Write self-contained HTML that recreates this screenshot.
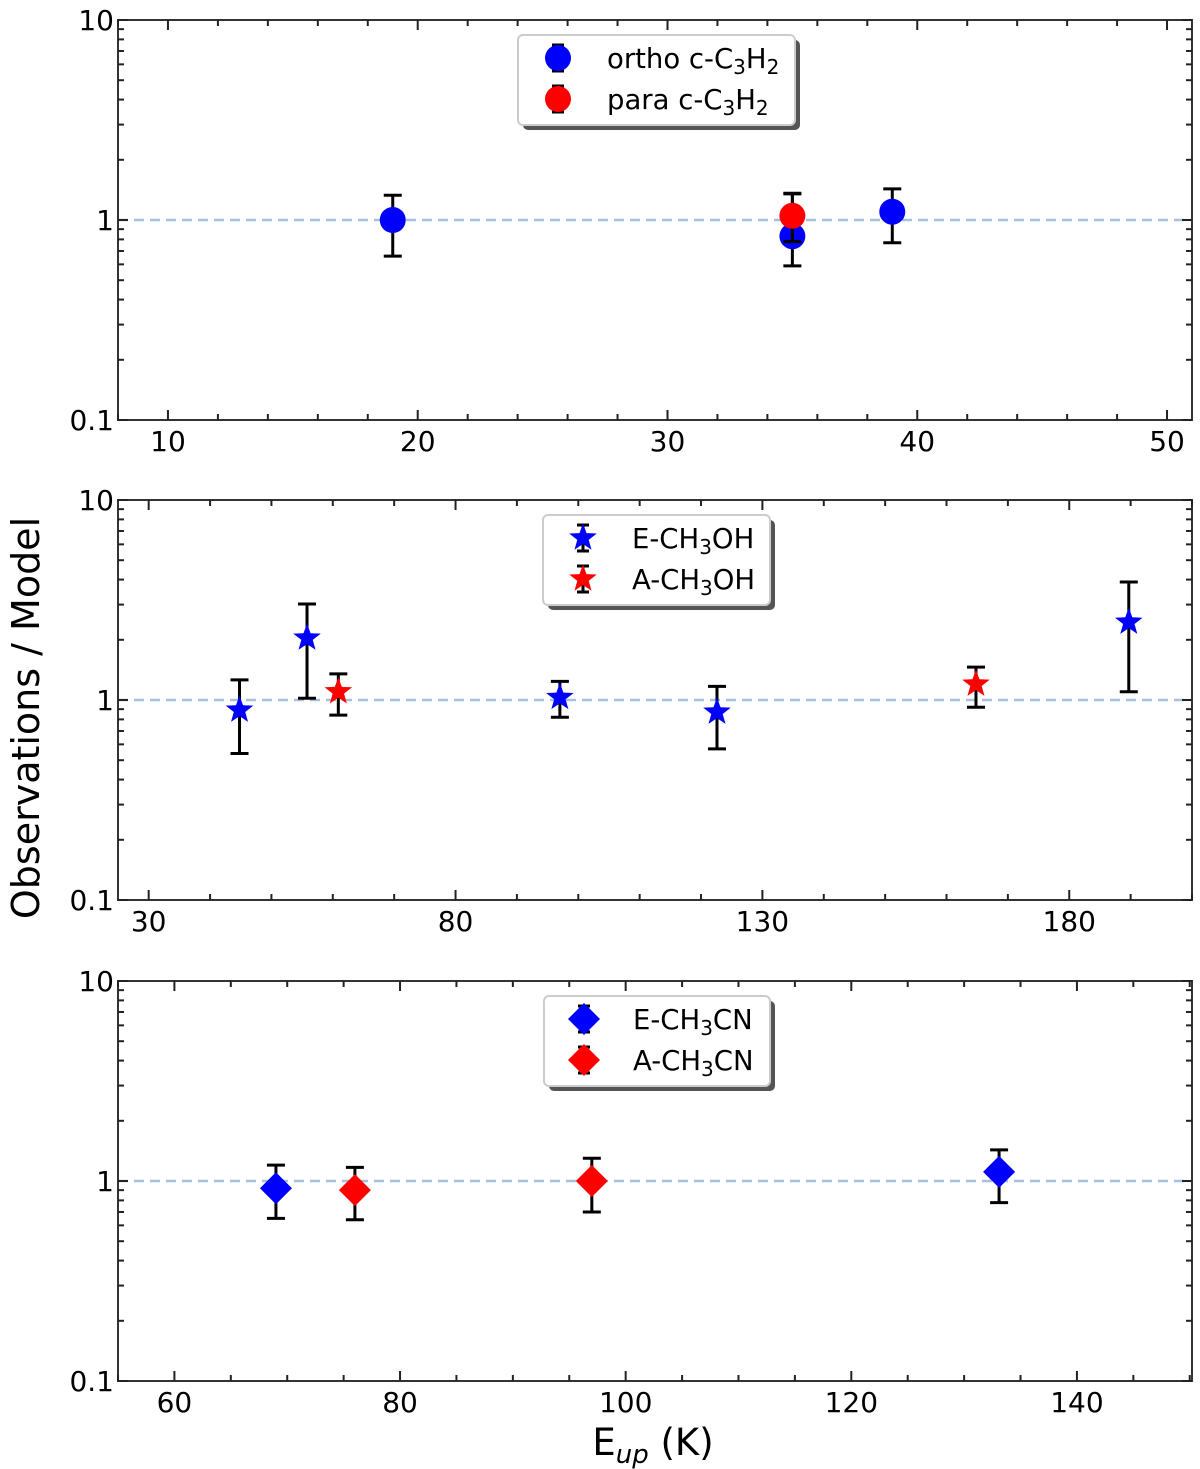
<!DOCTYPE html>
<html><head><meta charset="utf-8"><style>
html,body{margin:0;padding:0;background:#fff;}
svg{display:block;font-family:"DejaVu Sans","Liberation Sans",sans-serif;}
</style></head><body>
<svg id="chart" width="1200" height="1469" viewBox="0 0 1200 1469" xmlns="http://www.w3.org/2000/svg">
<text transform="translate(39,718) rotate(-90)" text-anchor="middle" font-size="38">Observations / Model</text>
<text x="653" y="1455" text-anchor="middle" font-size="37">E<tspan font-style="italic" font-size="26" dy="8">up</tspan><tspan dy="-8"> (K)</tspan></text>
</svg>
<script>
// Panel 1: c-C3H2
const p1OrthoX=[19,35,39];
const p1OrthoY=[1.0,0.83,1.1];
const p1OrthoLo=[0.66,0.59,0.77];
const p1OrthoHi=[1.33,1.36,1.43];
const p1ParaX=[35];
const p1ParaY=[1.05];
const p1ParaLo=[0.78];
const p1ParaHi=[1.35];
const p1Ticks=[10,20,30,40,50];
// Panel 2: CH3OH
const p2EX=[44.8,55.8,97,122.6,189.7];
const p2EY=[0.89,2.04,1.03,0.87,2.45];
const p2ELo=[0.54,1.02,0.82,0.57,1.1];
const p2EHi=[1.26,3.02,1.24,1.17,3.89];
const p2AX=[60.9,164.8];
const p2AY=[1.1,1.2];
const p2ALo=[0.84,0.92];
const p2AHi=[1.35,1.46];
const p2Ticks=[30,80,130,180];
// Panel 3: CH3CN
const p3EX=[69,133.1];
const p3EY=[0.92,1.11];
const p3ELo=[0.65,0.78];
const p3EHi=[1.2,1.43];
const p3AX=[76,97];
const p3AY=[0.9,1.0];
const p3ALo=[0.64,0.7];
const p3AHi=[1.17,1.3];
const p3Ticks=[60,80,100,120,140];
const yTickVals=[0.1,1,10];
const yTickLabels=["0.1","1","10"];

const NS="http://www.w3.org/2000/svg";
const svg=document.getElementById('chart');
function mk(tag,attrs,parent){const e=document.createElementNS(NS,tag);for(const k in attrs)e.setAttribute(k,attrs[k]);(parent||svg).appendChild(e);return e;}

function panel(cfg){
  const L=118,R=1192,T=cfg.top,B=cfg.top+400;
  const g=mk('g',{});
  
  
  const sx=v=>L+(v-cfg.xmin)/(cfg.xmax-cfg.xmin)*(R-L);
  const sy=v=>B-(Math.log10(v)+1)/2*(B-T);
  const ref=mk('line',{x1:L,x2:R,y1:sy(1),y2:sy(1),stroke:'#a8c0e0','stroke-width':2.5,'stroke-dasharray':'10,6'},g);
  
  
  const fr=mk('rect',{x:L,y:T,width:R-L,height:B-T,fill:'none',stroke:'#333','stroke-width':2},g);
  
  
  for(let v=Math.ceil(cfg.xmin/cfg.minor)*cfg.minor;v<=cfg.xmax;v+=cfg.minor){
    const major=cfg.ticks.some(t=>Math.abs(t-v)<1e-6);
    const len=major?10:6,x=sx(v);
    mk('line',{x1:x,x2:x,y1:B,y2:B-len,stroke:'#222','stroke-width':2},g);
    mk('line',{x1:x,x2:x,y1:T,y2:T+len,stroke:'#222','stroke-width':2},g);
  }
  cfg.ticks.forEach(v=>{
    const t=mk('text',{x:sx(v),y:B+31,'text-anchor':'middle','font-size':28},g);
    
    
    t.textContent=v;
  });
  for(let d=-1;d<1;d++){for(let m=2;m<=9;m++){const y=sy(m*Math.pow(10,d));
    mk('line',{x1:L,x2:L+6,y1:y,y2:y,stroke:'#222','stroke-width':2},g);
    mk('line',{x1:R,x2:R-6,y1:y,y2:y,stroke:'#222','stroke-width':2},g);}}
  yTickVals.forEach((v,i)=>{
    const y=sy(v);
    mk('line',{x1:L,x2:L+10,y1:y,y2:y,stroke:'#222','stroke-width':2},g);
    mk('line',{x1:R,x2:R-10,y1:y,y2:y,stroke:'#222','stroke-width':2},g);
    const t=mk('text',{x:L-4,y:y+10,'text-anchor':'end','font-size':28},g);
    
    
    t.textContent=yTickLabels[i];
  });
  cfg.series.forEach(s=>{
    s.x.forEach((xv,i)=>{
      const x=sx(xv),y=sy(s.y[i]),yl=sy(s.lo[i]),yh=sy(s.hi[i]);
      const eb=mk('path',{d:`M${x},${yl}V${yh}M${x-9},${yl}H${x+9}M${x-9},${yh}H${x+9}`,stroke:'#000','stroke-width':3,fill:'none'},g);
      
      
      const m=marker(s.shape,x,y,s.color,g);
      
      
    });
  });
  const lg=mk('g',{},g);
  
  
  const lx=cfg.leg[0],ly=T+15,lw=cfg.leg[1];
  mk('rect',{x:lx+5,y:ly+5,width:lw,height:90,rx:5,fill:'#555'},lg);
  mk('rect',{x:lx,y:ly,width:lw,height:90,rx:5,fill:'#fff',stroke:'#ccc','stroke-width':2},lg);
  cfg.series.forEach((s,i)=>{
    const cy=ly+23+i*41,cx=lx+40;
    const eb=mk('path',{d:`M${cx},${cy-13}V${cy+13}M${cx-6},${cy-13}H${cx+6}M${cx-6},${cy+13}H${cx+6}`,stroke:'#000','stroke-width':3},lg);
    
    
    const m=marker(s.shape,cx,cy,s.color,lg);
    
    
    const t=mk('text',{x:lx+cfg.textOff,y:cy+10,'font-size':27.5},lg);
    
    
    t.innerHTML=s.label;
  });
}
function marker(shape,x,y,c,parent){
  if(shape==='circle')return mk('circle',{cx:x,cy:y,r:13,fill:c},parent);
  if(shape==='diamond')return mk('path',{d:`M${x},${y-16}L${x+16},${y}L${x},${y+16}L${x-16},${y}Z`,fill:c},parent);
  let d='';for(let k=0;k<10;k++){const r=k%2?6:14.5,a=-Math.PI/2+k*Math.PI/5;d+=(k?'L':'M')+(x+r*Math.cos(a)).toFixed(2)+','+(y+r*Math.sin(a)).toFixed(2);}
  return mk('path',{d:d+'Z',fill:c},parent);
}
panel({name:'panel-c-c3h2',top:20,xmin:8,xmax:51,minor:2,ticks:p1Ticks,leg:[518,277],textOff:89,series:[
 {x:p1OrthoX,y:p1OrthoY,lo:p1OrthoLo,hi:p1OrthoHi,color:'#0000ff',shape:'circle',mname:'ortho-point',label:'ortho c-C<tspan font-size="20" dy="6">3</tspan><tspan dy="-6">H</tspan><tspan font-size="20" dy="6">2</tspan>'},
 {x:p1ParaX,y:p1ParaY,lo:p1ParaLo,hi:p1ParaHi,color:'#ff0000',shape:'circle',mname:'para-point',label:'para c-C<tspan font-size="20" dy="6">3</tspan><tspan dy="-6">H</tspan><tspan font-size="20" dy="6">2</tspan>'}]});
panel({name:'panel-ch3oh',top:500,xmin:25,xmax:200,minor:10,ticks:p2Ticks,leg:[543,227],textOff:89,series:[
 {x:p2EX,y:p2EY,lo:p2ELo,hi:p2EHi,color:'#0000ff',shape:'star',mname:'e-ch3oh-point',label:'E-CH<tspan font-size="20" dy="6">3</tspan><tspan dy="-6">OH</tspan>'},
 {x:p2AX,y:p2AY,lo:p2ALo,hi:p2AHi,color:'#ff0000',shape:'star',mname:'a-ch3oh-point',label:'A-CH<tspan font-size="20" dy="6">3</tspan><tspan dy="-6">OH</tspan>'}]});
panel({name:'panel-ch3cn',top:981,xmin:55,xmax:150.2,minor:5,ticks:p3Ticks,leg:[544,226],textOff:89,series:[
 {x:p3EX,y:p3EY,lo:p3ELo,hi:p3EHi,color:'#0000ff',shape:'diamond',mname:'e-ch3cn-point',label:'E-CH<tspan font-size="20" dy="6">3</tspan><tspan dy="-6">CN</tspan>'},
 {x:p3AX,y:p3AY,lo:p3ALo,hi:p3AHi,color:'#ff0000',shape:'diamond',mname:'a-ch3cn-point',label:'A-CH<tspan font-size="20" dy="6">3</tspan><tspan dy="-6">CN</tspan>'}]});
</script>
</body></html>
